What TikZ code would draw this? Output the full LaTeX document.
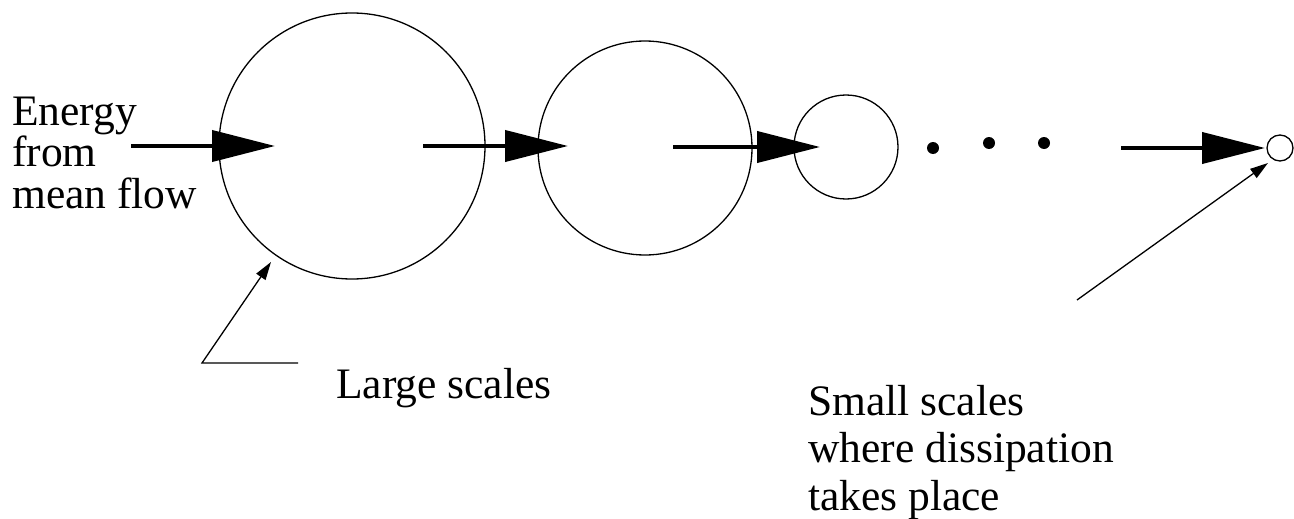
\documentclass[tikz,border=0pt]{standalone}
\usepackage{fontspec}
\setmainfont{Liberation Serif}
\usetikzlibrary{arrows.meta}
\tikzset{
  eddy/.style={circle, draw, line width=1.3pt, inner sep=0pt, minimum size=#1},
  flux/.style={line width=4pt, -{Triangle[length=63pt,width=31pt]}},
  pointer/.style={line width=1.3pt, -{Triangle[length=18pt,width=11pt]}},
  dot/.style={circle, fill, inner sep=0pt, minimum size=12pt},
  lbl/.style={inner sep=0pt, anchor=base west, align=left}
}
\begin{document}
\begin{tikzpicture}[x=1pt, y=-1pt]
  \useasboundingbox (0,0) rectangle (1294,519);

  % eddies, from large to small
  \node[eddy=266pt] (big)    at (352,146) {};
  \node[eddy=214pt] (mid)    at (645,148) {};
  \node[eddy=104pt] (small)  at (846,147) {};
  \node[eddy=26pt]  (tiny)   at (1280,148) {};

  % the cascade continues
  \node[dot] (d1) at (933,148) {};
  \node[dot] (d2) at (989,143) {};
  \node[dot] (d3) at (1044,143) {};

  % energy transfer arrows
  \coordinate (a0) at (131,146);  \coordinate (a1) at (275,146);
  \coordinate (b0) at (423,146);  \coordinate (b1) at (568,146);
  \coordinate (c0) at (673,147);  \coordinate (c1) at (820,147);
  \coordinate (e0) at (1121,148); \coordinate (e1) at (1265,148);
  \draw[flux] (a0) -- (a1);
  \draw[flux] (b0) -- (b1);
  \draw[flux] (c0) -- (c1);
  \draw[flux] (e0) -- (e1);

  % labels (base anchor of a multi-line node sits on its last line)
  \node[lbl, font=\fontsize{43.5pt}{41.5pt}\selectfont] (energy) at (12,208)
    {Energy\\from\\mean flow};
  \node[lbl, font=\fontsize{43.5pt}{42pt}\selectfont] (large) at (336,398)
    {Large scales};
  \node[lbl, font=\fontsize{43.5pt}{47.5pt}\selectfont] (smallsc) at (808,510)
    {Small scales\\where dissipation\\takes place};

  % leader lines
  \coordinate (l0) at (298,363);
  \coordinate (l1) at (202,363);
  \coordinate (l2) at (271,262);
  \draw[pointer] (l0) -- (l1) -- (l2);
  \coordinate (s0) at (1077,300);
  \coordinate (s1) at (1268,163);
  \draw[pointer] (s0) -- (s1);
\end{tikzpicture}
\end{document}
